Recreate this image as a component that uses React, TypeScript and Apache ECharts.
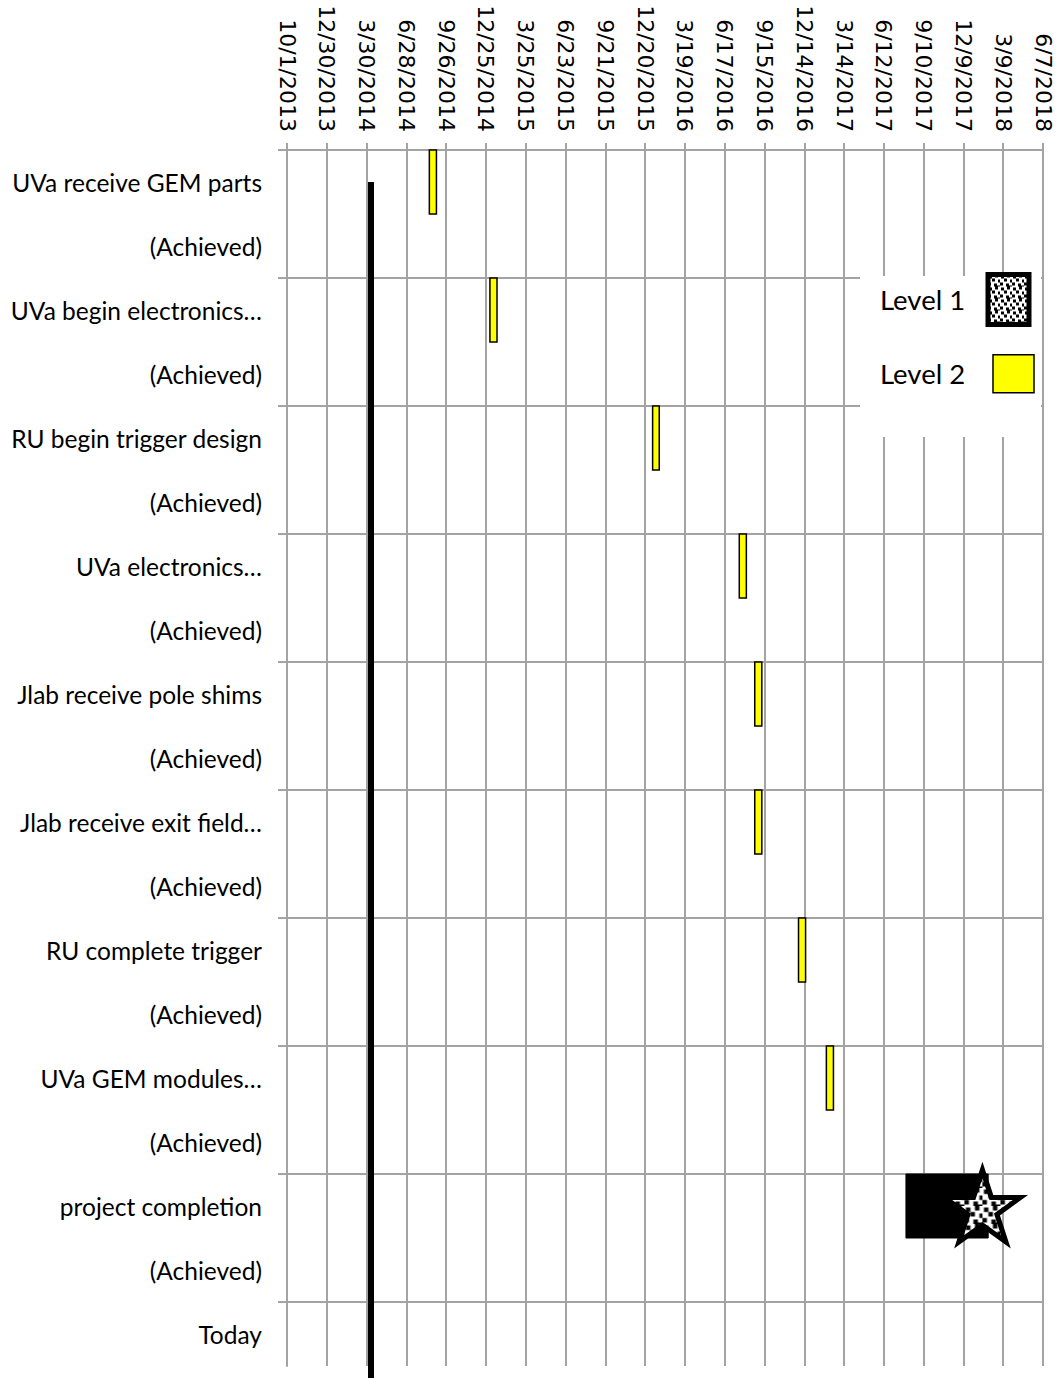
import React, { useEffect, useRef } from 'react';
import * as echarts from 'echarts';

// ---- data ----
const START_DATE = '2013-10-01';
const TICK_DAYS = 90;
const TICK_COUNT = 19;

const CATEGORIES = [
  'UVa receive GEM parts', '(Achieved)',
  'UVa begin electronics…', '(Achieved)',
  'RU begin trigger design', '(Achieved)',
  'UVa electronics…', '(Achieved)',
  'Jlab receive pole shims', '(Achieved)',
  'Jlab receive exit field…', '(Achieved)',
  'RU complete trigger', '(Achieved)',
  'UVa GEM modules…', '(Achieved)',
  'project completion', '(Achieved)',
  'Today',
];

const LEVEL2_ROWS = [0, 2, 4, 6, 8, 10, 12, 14];
const LEVEL2_START = ['2014-08-19', '2015-01-03', '2016-01-06', '2016-07-20', '2016-08-24', '2016-08-24', '2016-12-01', '2017-02-02'];
const LEVEL2_END = ['2014-09-04', '2015-01-19', '2016-01-21', '2016-08-05', '2016-09-09', '2016-09-09', '2016-12-17', '2017-02-18'];

const LEVEL1_ROW = 16;
const LEVEL1_START = '2017-08-01';
const LEVEL1_END = '2018-02-03';
const MILESTONE_DATE = '2018-01-21';

const TODAY = '2014-04-09';

// ---- helpers ----
const DAY = 86400000;
const startMs = Date.parse(START_DATE + 'T00:00:00Z');
const toDay = (d: string) => Math.round((Date.parse(d + 'T00:00:00Z') - startMs) / DAY);
const fmt = (v: number) => {
  const d = new Date(startMs + v * DAY);
  return `${d.getUTCMonth() + 1}/${d.getUTCDate()}/${d.getUTCFullYear()}`;
};

function starPath() {
  const R = 50;
  const r = 19.1;
  const pts: string[] = [];
  for (let i = 0; i < 10; i++) {
    const a = -Math.PI / 2 + (i * Math.PI) / 5;
    const rad = i % 2 === 0 ? R : r;
    pts.push(`${(50 + rad * Math.cos(a)).toFixed(2)} ${(50 + rad * Math.sin(a)).toFixed(2)}`);
  }
  return 'path://M' + pts.join(' L') + ' Z';
}

function makePattern(scaleX = 1, scaleY = 1) {
  const c = document.createElement('canvas');
  c.width = 12;
  c.height = 12;
  const ctx = c.getContext('2d')!;
  ctx.fillStyle = '#fff';
  ctx.fillRect(0, 0, 12, 12);
  ctx.fillStyle = '#000';
  const dots = [[1, 1], [7, 0], [4, 4], [10, 5], [0, 8], [6, 9], [9, 11]];
  dots.forEach(([x, y]) => ctx.fillRect(x, y, 3, 3));
  return { image: c.toDataURL(), imageWidth: 12, imageHeight: 12, repeat: 'repeat', scaleX, scaleY };
}

const GRID = '#a3a3a3';
const LABEL_FONT = 'Lato';
const LABEL_SIZE = 24.5;
const LEGEND_SIZE = 27.5;
const STAR_SIZE = [76, 72];
const STAR_PATTERN_ZOOM = 1.5;

export default function App() {
  const ref = useRef<HTMLDivElement>(null);
  useEffect(() => {
    if (!ref.current) return;
    const chart = echarts.init(ref.current, undefined, { renderer: 'svg' });

    const level2Data = LEVEL2_ROWS.map((row, i) => [row, toDay(LEVEL2_START[i]), toDay(LEVEL2_END[i])]);
    const level1Data = [[LEVEL1_ROW, toDay(LEVEL1_START), toDay(LEVEL1_END)]];
    const pairTicks = CATEGORIES.map((_, i) => i).filter((i) => i % 2 === 0);

    const rectItem = (fill: string, stroke: string, lw: number) => (params: any, api: any) => {
      const cat = api.value(0);
      const p1 = api.coord([api.value(1), cat]);
      const p2 = api.coord([api.value(2), cat]);
      const h = api.size([0, 1])[1];
      return {
        type: 'rect',
        shape: { x: p1[0], y: p1[1] - h / 2, width: p2[0] - p1[0], height: h },
        style: { fill, stroke, lineWidth: lw },
      };
    };

    const legendText = (w: number) => ({
      rich: { t: { fontFamily: LABEL_FONT, fontSize: LEGEND_SIZE, color: '#000', width: w, align: 'left' } },
    });

    chart.setOption({
      animation: false,
      backgroundColor: '#fff',
      grid: { left: 287, right: 15, top: 150, bottom: 12, containLabel: false, outerBoundsMode: 'none' },
      xAxis: {
        type: 'value',
        position: 'top',
        min: 0,
        max: TICK_DAYS * TICK_COUNT,
        interval: TICK_DAYS,
        axisLine: { show: true, lineStyle: { color: GRID, width: 2 } },
        axisTick: { show: true, length: 7, lineStyle: { color: GRID, width: 2 } },
        splitLine: { show: true, lineStyle: { color: GRID, width: 2 } },
        axisLabel: {
          rotate: -90,
          margin: 18,
          formatter: (v: number) => fmt(v),
          fontFamily: 'DejaVu Sans',
          fontSize: 22,
          color: '#000',
        },
      },
      yAxis: [
        {
          type: 'category',
          inverse: true,
          data: CATEGORIES,
          boundaryGap: true,
          axisLine: { show: true, lineStyle: { color: GRID, width: 2 } },
          axisTick: { show: false },
          splitLine: { show: false },
          axisLabel: {
            interval: 0,
            margin: 25,
            fontFamily: LABEL_FONT,
            fontSize: LABEL_SIZE,
            color: '#000',
          },
        },
        {
          type: 'value',
          position: 'left',
          inverse: true,
          min: 0,
          max: CATEGORIES.length,
          axisLine: { show: false },
          axisLabel: { show: false },
          axisTick: { show: true, length: 9, customValues: pairTicks, lineStyle: { color: GRID, width: 2 } },
          splitLine: { show: true, lineStyle: { color: GRID, width: 2 } },
        },
      ],
      graphic: [
        {
          type: 'rect',
          z: 1,
          shape: { x: 860, y: 276, width: 181, height: 161 },
          style: { fill: '#fff' },
        },
      ],
      legend: [
        {
          data: [{ name: 'Level 1', icon: 'rect', itemStyle: { color: makePattern(), borderColor: '#000', borderWidth: 5 } }],
          left: 880,
          top: 272,
          align: 'right',
          padding: 0,
          itemWidth: 41,
          itemHeight: 50,
          selectedMode: false,
          formatter: (n: string) => `{t|${n}}`,
          textStyle: legendText(103),
        },
        {
          data: [{ name: 'Level 2', icon: 'rect', itemStyle: { color: '#ffff00', borderColor: '#000', borderWidth: 1.5 } }],
          left: 880,
          top: 354,
          align: 'right',
          padding: 0,
          itemWidth: 41,
          itemHeight: 38,
          selectedMode: false,
          formatter: (n: string) => `{t|${n}}`,
          textStyle: legendText(108),
        },
      ],
      series: [
        {
          name: 'Level 2',
          type: 'custom',
          renderItem: rectItem('#ffff00', '#000', 1.5),
          encode: { x: [1, 2], y: 0 },
          data: level2Data,
          z: 3,
        },
        {
          name: 'Level 1',
          type: 'custom',
          renderItem: rectItem('#000', '#000', 1),
          encode: { x: [1, 2], y: 0 },
          data: level1Data,
          z: 3,
        },
        {
          name: 'Level 1',
          type: 'scatter',
          symbol: starPath(),
          symbolSize: STAR_SIZE,
          itemStyle: {
            color: makePattern((2 * STAR_PATTERN_ZOOM) / STAR_SIZE[0], (2 * STAR_PATTERN_ZOOM) / STAR_SIZE[1]),
            borderColor: '#000',
            borderWidth: 5,
            opacity: 1,
          },
          data: [[toDay(MILESTONE_DATE), LEVEL1_ROW]],
          z: 4,
        },
        {
          name: 'Today',
          type: 'custom',
          clip: false,
          renderItem: (params: any, api: any) => {
            const top = api.coord([api.value(0), 0]);
            return {
              type: 'line',
              shape: { x1: top[0], y1: top[1], x2: top[0], y2: api.getHeight() },
              style: { stroke: '#000', lineWidth: 6 },
            };
          },
          encode: { x: 0, y: 1 },
          data: [[toDay(TODAY), 0]],
          z: 5,
        },
      ],
    });
    return () => chart.dispose();
  }, []);
  return (
    <div
      ref={ref}
      style={{ position: 'absolute', left: 0, top: 0, width: 1058, height: 1378, background: '#fff' }}
    />
  );
}
